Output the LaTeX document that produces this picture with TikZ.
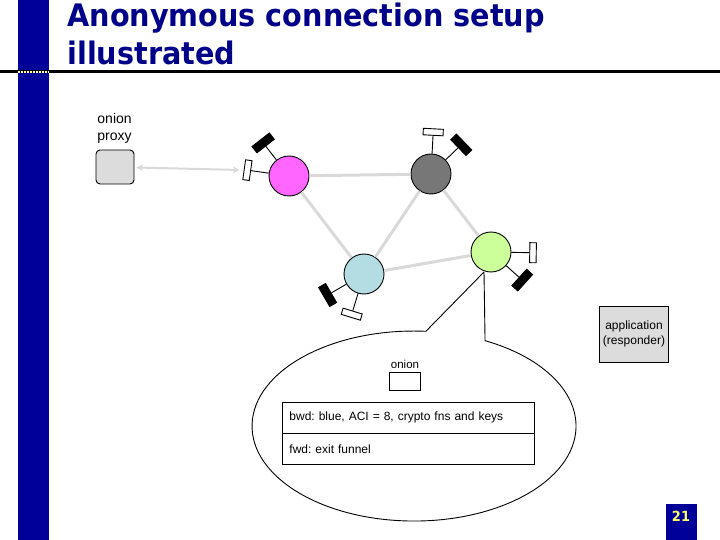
\documentclass[tikz,border=0pt]{standalone}
\usepackage{fontspec}
\setmainfont{Liberation Sans}
\newfontfamily\titlefont[FakeStretch=0.925]{DejaVu Sans}
\usetikzlibrary{arrows}
\frenchspacing
\definecolor{navy}{HTML}{000099}
\definecolor{titleblue}{HTML}{000088}
\definecolor{dotyellow}{HTML}{FFFF99}
\definecolor{numyellow}{HTML}{FFFF66}
\definecolor{linkgray}{HTML}{D9D9D9}
\definecolor{boxgray}{HTML}{DCDCDC}
\definecolor{pinkr}{HTML}{FF66FF}
\definecolor{darkr}{HTML}{777777}
\definecolor{greenr}{HTML}{CCFF99}
\definecolor{bluer}{HTML}{B3DDE3}

\begin{document}
\begin{tikzpicture}[x=1pt,y=1pt,line width=0.9pt,
	router/.style={circle, draw, minimum size=40pt, inner sep=0pt},
	link/.style={draw=linkgray, line width=3pt},
	keybar/.style={rectangle, draw, fill=black, minimum width=8pt, minimum height=22pt, inner sep=0pt},
	hashbar/.style={rectangle, draw, fill=white, minimum width=6.5pt, minimum height=20pt, inner sep=0pt},
	row/.style={draw, anchor=north west, minimum height=30.5pt, text width=238pt, inner xsep=7pt, align=left, font=\fontsize{12}{14}\selectfont}]

\useasboundingbox (0,0) rectangle (720,-540);

% slide frame
\fill[navy] (18,0) rectangle (49,-540);
\draw[line width=3pt] (0,-72) -- (720,-72);
\draw[dotyellow, line width=2pt, dash pattern=on 2pt off 1pt] (18,-72) -- (49,-72);
\node[anchor=base west, inner sep=0pt, text=titleblue, font=\titlefont\bfseries\fontsize{31}{38}\selectfont] (title1) at (67,-27) {Anonymous connection setup};
\node[anchor=base west, inner sep=0pt, text=titleblue, font=\titlefont\bfseries\fontsize{31}{38}\selectfont] (title2) at (67,-65) {illustrated};

% onion routers
\node[router, fill=pinkr] (n1) at (289,-176) {};
\node[router, fill=darkr] (n2) at (431,-174) {};
\node[router, fill=greenr] (n3) at (491,-252) {};
\node[router, fill=bluer] (n4) at (364,-274) {};

\foreach \i/\j in {1/2, 1/4, 2/4, 2/3, 4/3}
{
	\path[link] (n\i) edge (n\j);
};

\foreach \i/\a/\b in {1/128/172, 2/44/87, 3/-42/-1, 4/210/253}
{
	\node[keybar, rotate=\a] (k\i) at ([shift={(\a:42)}]n\i) {};
	\node[hashbar, rotate=\b] (h\i) at ([shift={(\b:42)}]n\i) {};
	\draw (n\i) -- (k\i);
	\draw (n\i) -- (h\i);
};

% end points
\node[anchor=north west, inner sep=0pt, align=left, font=\fontsize{14}{17}\selectfont] (proxytext) at (97,-113) {onion\\proxy};
\node[draw, fill=boxgray, rounded corners=4pt, minimum width=38pt, minimum height=34pt] (proxy) at (115,-167) {};
\draw[<->, >=stealth, draw=linkgray, line width=2pt, shorten >=4pt, shorten <=2pt] (proxy) -- (h1);

\node[draw, fill=boxgray, minimum width=68pt, minimum height=56pt, align=center, font=\fontsize{12}{15}\selectfont] (app) at (634,-334) {application\\(responder)};

% callout with the onion
\coordinate (tip) at (484,-272);
\draw (tip) -- (425.9,-331.3) arc[start angle=85.8, end angle=424, x radius=162, y radius=95] -- (tip);

\node[draw, minimum width=31pt, minimum height=18pt] (onion) at (405,-381) {};
\node[font=\fontsize{11.5}{14}\selectfont] (oniontext) at (405,-364) {onion};

\node[row] (bwd) at (282,-402) {bwd: blue, ACI = 8, crypto fns and keys};
\node[row] (fwd) at (bwd.south west) {fwd: exit funnel};

% page number
\fill[navy] (666,-504) rectangle (697,-540);
\node[text=numyellow, font=\titlefont\bfseries\fontsize{14}{16}\selectfont] (pagenum) at (681,-516) {21};
\end{tikzpicture}
\end{document}
